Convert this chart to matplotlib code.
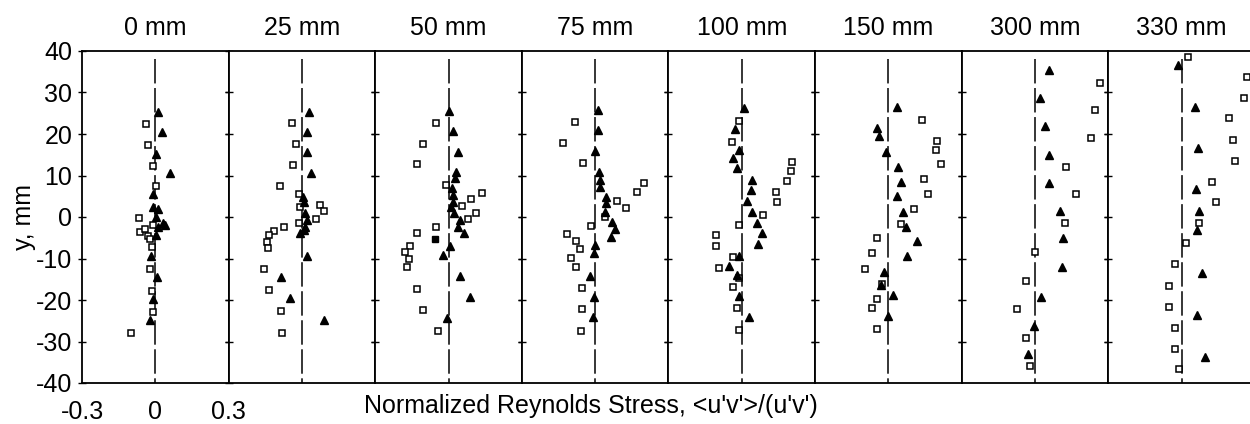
import matplotlib
matplotlib.use("Agg")
import matplotlib.pyplot as plt

plt.rcParams['font.family'] = ['Liberation Sans', 'DejaVu Sans']
plt.rcParams['axes.unicode_minus'] = False

stations = ['0 mm', '25 mm', '50 mm', '75 mm', '100 mm', '150 mm', '300 mm', '330 mm']

# open squares / filled triangles, one pair of lists per station
sq0_x = [-0.038, -0.029, -0.008, 0.003, -0.065, -0.062, -0.041, -0.03, -0.01, -0.023, -0.015, -0.023, -0.012, -0.008, -0.099]
sq0_y = [22.4, 17.3, 12.4, 7.5, -0.2, -3.7, -2.8, -4.5, -2.0, -5.2, -7.2, -12.6, -17.8, -22.8, -28.0]
tri0_x = [0.011, 0.027, 0.003, 0.061, -0.008, -0.008, 0.013, 0.003, 0.03, 0.041, 0.013, 0.003, -0.018, 0.006, -0.01, -0.021]
tri0_y = [25.4, 20.4, 15.3, 10.5, 5.5, 2.3, 1.9, 0.1, -1.4, -2.0, -2.3, -4.3, -9.4, -14.5, -19.8, -24.8]

sq1_x = [-0.042, -0.023, -0.037, -0.089, -0.013, -0.007, 0.075, 0.089, 0.058, -0.013, -0.072, -0.113, -0.136, -0.143, -0.139, -0.154, -0.133, -0.086, -0.083]
sq1_y = [22.6, 17.5, 12.5, 7.5, 5.5, 2.5, 2.9, 1.5, -0.6, -1.4, -2.3, -3.3, -4.4, -6.1, -7.4, -12.5, -17.6, -22.6, -27.9]
tri1_x = [0.03, 0.02, 0.02, 0.037, 0.004, 0.007, 0.014, 0.02, 0.014, 0.01, -0.007, 0.02, -0.086, -0.048, 0.091]
tri1_y = [25.4, 20.6, 15.7, 10.7, 4.9, 3.7, 0.9, -0.7, -2.3, -3.1, -3.9, -9.3, -14.4, -19.6, -24.7]

sq2_x = [-0.051, -0.103, -0.13, -0.01, 0.137, 0.092, 0.054, 0.112, 0.078, -0.051, -0.13, -0.157, -0.176, -0.16, -0.169, -0.13, -0.103, -0.042]
sq2_y = [22.7, 17.6, 12.7, 7.7, 5.9, 4.3, 2.7, 1.0, -0.5, -2.3, -3.8, -6.9, -8.5, -10.1, -12.1, -17.4, -22.4, -27.5]
tri2_x = [0.0, 0.02, 0.037, 0.031, 0.028, 0.014, 0.02, 0.02, 0.01, 0.024, 0.047, 0.037, 0.065, 0.007, -0.024, 0.047, 0.088, -0.007]
tri2_y = [25.5, 20.7, 15.7, 10.9, 9.3, 6.9, 5.3, 3.7, 2.3, 1.0, -0.7, -2.3, -3.8, -6.9, -9.2, -14.1, -19.2, -24.4]
solid2_x = [-0.055]
solid2_y = [-5.3]

sq3_x = [-0.083, -0.131, -0.049, 0.2, 0.17, 0.088, 0.125, 0.039, -0.015, -0.113, -0.077, -0.061, -0.1, -0.079, -0.052, -0.052, -0.056]
sq3_y = [23.0, 17.9, 12.9, 8.1, 6.0, 3.9, 2.1, -0.1, -2.1, -4.1, -5.9, -7.8, -9.8, -12.0, -17.2, -22.2, -27.5]
tri3_x = [0.013, 0.012, -0.002, 0.016, 0.019, 0.019, 0.046, 0.044, 0.039, 0.071, 0.08, 0.067, 0.0, -0.004, -0.02, -0.004, -0.007]
tri3_y = [25.8, 21.0, 15.9, 10.9, 8.9, 7.3, 4.9, 3.3, 1.3, -1.1, -3.0, -4.9, -6.7, -8.7, -14.2, -19.2, -24.2]

sq4_x = [-0.013, -0.038, 0.204, 0.202, 0.187, 0.139, 0.143, 0.089, -0.011, -0.106, -0.106, -0.034, -0.092, -0.013, -0.037, -0.02, -0.013]
sq4_y = [23.2, 18.1, 13.2, 11.2, 8.7, 6.0, 3.5, 0.6, -1.9, -4.3, -7.0, -9.6, -12.4, -14.8, -16.9, -22.0, -27.2]
tri4_x = [0.008, -0.027, -0.011, -0.034, -0.02, 0.041, 0.038, 0.023, 0.044, 0.061, 0.082, 0.065, -0.011, -0.051, -0.018, -0.013, 0.03]
tri4_y = [26.2, 21.2, 16.1, 14.1, 11.7, 8.9, 6.5, 3.9, 1.3, -1.4, -3.9, -6.5, -9.3, -11.7, -14.0, -19.0, -24.0]

sq5_x = [0.139, 0.2, 0.195, 0.214, 0.146, 0.163, 0.105, 0.051, -0.047, -0.065, -0.095, -0.027, -0.045, -0.068, -0.047]
sq5_y = [23.4, 18.3, 16.1, 12.7, 9.2, 5.5, 1.9, -1.8, -5.1, -8.7, -12.5, -16.1, -19.8, -22.0, -27.1]
tri5_x = [0.037, -0.045, -0.037, -0.011, 0.041, 0.051, 0.037, 0.059, 0.071, 0.116, 0.075, -0.018, -0.031, 0.018, 0.0]
tri5_y = [26.4, 21.4, 19.4, 15.7, 12.0, 8.5, 5.1, 1.3, -2.3, -5.7, -9.3, -13.2, -16.5, -18.8, -23.9]

sq6_x = [0.265, 0.245, 0.229, 0.129, 0.167, 0.125, 0.0, -0.038, -0.075, -0.038, -0.02]
sq6_y = [32.4, 25.8, 19.0, 12.1, 5.5, -1.5, -8.4, -15.4, -22.2, -29.2, -35.9]
tri6_x = [0.057, 0.02, 0.041, 0.058, 0.058, 0.102, 0.116, 0.112, 0.024, -0.003, -0.03]
tri6_y = [35.4, 28.6, 21.9, 14.9, 8.3, 1.5, -5.1, -12.0, -19.2, -26.2, -33.0]

sq7_x = [0.027, 0.268, 0.257, 0.193, 0.211, 0.219, 0.124, 0.14, 0.072, 0.02, -0.027, -0.052, -0.05, -0.026, -0.027, -0.009]
sq7_y = [38.5, 33.7, 28.6, 23.8, 18.6, 13.6, 8.5, 3.7, -1.4, -6.3, -11.4, -16.6, -21.6, -26.8, -31.9, -36.7]
tri7_x = [-0.016, 0.056, 0.068, 0.059, 0.072, 0.064, 0.082, 0.064, 0.097]
tri7_y = [36.6, 26.6, 16.7, 6.7, 1.5, -3.1, -13.4, -23.6, -33.7]

sq_x = [sq0_x, sq1_x, sq2_x, sq3_x, sq4_x, sq5_x, sq6_x, sq7_x]
sq_y = [sq0_y, sq1_y, sq2_y, sq3_y, sq4_y, sq5_y, sq6_y, sq7_y]
tri_x = [tri0_x, tri1_x, tri2_x, tri3_x, tri4_x, tri5_x, tri6_x, tri7_x]
tri_y = [tri0_y, tri1_y, tri2_y, tri3_y, tri4_y, tri5_y, tri6_y, tri7_y]

fs = 18

fig = plt.figure(figsize=(12.5, 4.24), dpi=100)

W, H = 1250.0, 424.0
left0 = 82
pw = 146.6
bot = 383
top = 51

for i in range(8):
    ax = fig.add_axes([(left0 + i * pw) / W, (H - bot) / H, pw / W, (bot - top) / H])
    ax.set_xlim(-0.3, 0.3)
    ax.set_ylim(-40, 40)
    ax.plot([0, 0], [38, -40], color='black', lw=1.1, linestyle=(0, (16, 3)))
    ax.plot(sq_x[i], sq_y[i], 's', mfc='white', mec='black', mew=1.1, ms=4.5, linestyle='none')
    ax.plot(tri_x[i], tri_y[i], '^', color='black', ms=5.2, linestyle='none')
    if i == 2:
        ax.plot(solid2_x, solid2_y, 's', color='black', ms=4.8, linestyle='none')
    for s in ax.spines.values():
        s.set_linewidth(1.3)
    ax.text(0.5, 1.07, stations[i], transform=ax.transAxes, ha='center', va='center', fontsize=fs)
    ax.tick_params(axis='y', which='both', right=True, direction='inout', length=6, width=1,
                   labelsize=fs, pad=4)
    if i == 0:
        ax.set_yticks([40, 30, 20, 10, 0, -10, -20, -30, -40])
        ax.set_xticks([-0.3, 0, 0.3])
        ax.set_xticklabels(['-0.3', '0', '0.3'])
        ax.tick_params(axis='x', length=0, labelsize=fs, pad=12)
        ax.set_ylabel('y, mm', fontsize=fs, labelpad=0)
    else:
        ax.set_yticks([30, 20, 10, 0, -10, -20, -30])
        ax.tick_params(axis='y', left=True, labelleft=False)
        ax.set_xticks([])

fig.text(591 / W, 1 - 406 / H, "Normalized Reynolds Stress, <u'v'>/(u'v')", ha='center', va='center', fontsize=fs)

fig.savefig('out.png', dpi=100)
